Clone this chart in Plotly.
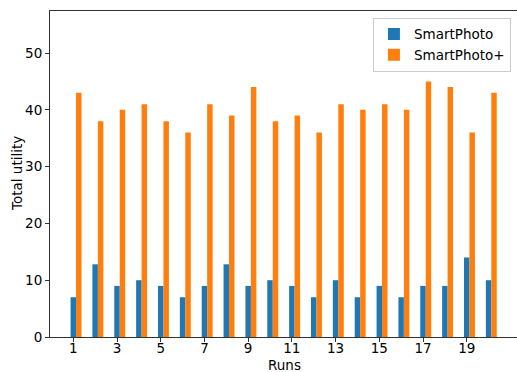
import plotly.graph_objects as go

runs = list(range(1, 21))
smartphoto = [7, 12.8, 9, 10, 9, 7, 9, 12.8, 9, 10, 9, 7, 10, 7, 9, 7, 9, 9, 14, 10]
smartphoto_plus = [43, 38, 40, 41, 38, 36, 41, 39, 44, 38, 39, 36, 41, 40, 41, 40, 45, 44, 36, 43]
xtick_vals = [1, 3, 5, 7, 9, 11, 13, 15, 17, 19]
ytick_vals = [0, 10, 20, 30, 40, 50]

font = "DejaVu Sans"
W, H = 517, 372
ML, MR, MT, MB = 50, 0, 11, 35
fig = go.Figure()
fig.add_trace(go.Bar(x=runs, y=smartphoto, name="SmartPhoto", width=0.25, offset=-0.125,
                     marker=dict(color="#1f77b4", line=dict(width=0))))
fig.add_trace(go.Bar(x=runs, y=smartphoto_plus, name="SmartPhoto+", width=0.25, offset=0.125,
                     marker=dict(color="#ff7f0e", line=dict(width=0))))

ph = H - MT - MB
pw = W - ML - MR
fig.update_layout(
    width=W, height=H,
    margin=dict(l=ML, r=MR, t=MT, b=MB),
    paper_bgcolor="white", plot_bgcolor="white",
    barmode="overlay",
    font=dict(family=font, size=13.5, color="black"),
    legend=dict(x=0.987, y=0.979, xanchor="right", yanchor="top",
                bordercolor="#cccccc", borderwidth=1, bgcolor="rgba(255,255,255,0.8)",
                font=dict(size=13.5), itemwidth=30, tracegroupgap=0),
    xaxis=dict(range=[-0.066, 21.3], tickvals=xtick_vals, ticks="outside", ticklen=4,
               tickcolor="#333", showline=True, linecolor="#333", linewidth=1, mirror=True,
               showgrid=False, zeroline=False, tickfont=dict(size=13.5), automargin=False,
               ticklabelstandoff=-5),
    yaxis=dict(range=[0, 57.4], tickvals=ytick_vals, ticks="outside", ticklen=4,
               tickcolor="#333", showline=True, linecolor="#333", linewidth=1,
               showgrid=False, zeroline=False, tickfont=dict(size=13.5), automargin=False),
    annotations=[
        dict(text="Runs", xref="paper", yref="paper", x=(284 - ML) / pw,
             y=-(365 - (H - MB)) / ph, showarrow=False, xanchor="center", yanchor="middle",
             font=dict(size=13.5)),
        dict(text="Total utility", xref="paper", yref="paper", x=-(ML - 17) / pw,
             y=0.5, showarrow=False, xanchor="center", yanchor="middle", textangle=-90,
             font=dict(size=13.5)),
    ],
)
fig.write_html("out.html")
